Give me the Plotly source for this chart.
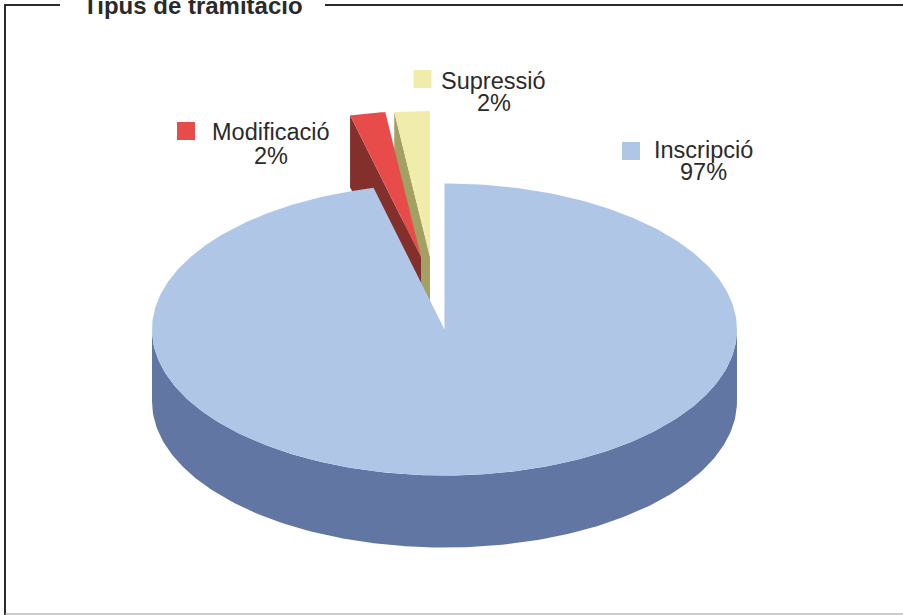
import numpy as np
import plotly.graph_objects as go

# Data
categories = ["Inscripció", "Modificació", "Supressió"]
shares = [96.1, 1.95, 1.95]
percent_labels = ["97%", "2%", "2%"]
title_text = "Tipus de tramitació"

# Colours
top_colors = ["#b0c6e6", "#e84c4a", "#f0ecac"]
wall_colors = ["#6276a4", "#83302d", "#a3a063"]
frame_color = "#2b2a2b"
text_color = "#2b2a2b"

# Projection of the pie
CX, CY, RX, RY, DEPTH = 444.5, 329.5, 292.5, 146.0, 72.0
EXPLODE = [(0.0, 0.0), (-23.5, -72.5), (-14.5, -72.5)]
LEGEND_XY = [(631, 151), (186, 131), (422.5, 79)]
LABEL_XY = [(703, 149.5, 172), (270.5, 131.5, 156), (493.5, 80.5, 103)]

cum = np.concatenate([[0.0], np.cumsum(shares)])
cum = cum / cum[-1] * 2 * np.pi
starts, ends = cum[:-1], cum[1:]


def project(theta, off=(0.0, 0.0), drop=0.0):
    theta = np.asarray(theta, dtype=float)
    return (CX + off[0] + RX * np.sin(theta), CY + off[1] + drop - RY * np.cos(theta))


def poly(fig, xs, ys, color):
    fig.add_trace(go.Scatter(x=list(xs), y=list(ys), mode="lines", fill="toself",
                             fillcolor=color, line=dict(width=0), hoverinfo="skip",
                             showlegend=False))


fig = go.Figure()

# Exploded slices, far one first: cut wall, then top
for i in (2, 1):
    off = EXPLODE[i]
    ax, ay = CX + off[0], CY + off[1]
    lx, ly = (float(v) for v in project(starts[i], off))
    poly(fig, [lx, ax, ax, lx], [ly, ay, ay + DEPTH, ly + DEPTH], wall_colors[i])
    tx, ty = project(np.linspace(starts[i], ends[i], 20), off)
    poly(fig, np.r_[ax, tx], np.r_[ay, ty], top_colors[i])

# Inscripció: front wall and top
arc = np.linspace(np.pi / 2, 3 * np.pi / 2, 200)
x1, y1 = project(arc)
x2, y2 = project(arc[::-1], drop=DEPTH)
poly(fig, np.r_[x1, x2], np.r_[y1, y2], wall_colors[0])
tx, ty = project(np.linspace(starts[0], ends[0], 400))
poly(fig, np.r_[CX, tx], np.r_[CY, ty], top_colors[0])

# Legend keys
for (kx, ky), col, name in zip(LEGEND_XY, top_colors, categories):
    fig.add_trace(go.Scatter(x=[kx], y=[ky], mode="markers", name=name,
                             marker=dict(symbol="square", size=18, color=col, line=dict(width=0)),
                             hoverinfo="skip", showlegend=False))

annotations = []
for (x, y1_, y2_), name, pct in zip(LABEL_XY, categories, percent_labels):
    for y, label in ((y1_, name), (y2_, pct)):
        annotations.append(dict(x=x, y=y, xref="x", yref="y", text=label, showarrow=False,
                                xanchor="center", yanchor="middle",
                                font=dict(family="Liberation Sans", size=23.5, color=text_color)))
annotations.append(dict(x=192.5, y=5, xref="x", yref="y", text="<b>%s</b>" % title_text,
                        showarrow=False, xanchor="center", yanchor="middle",
                        font=dict(family="Liberation Sans", size=24, color=text_color)))

shapes = [
    dict(type="line", x0=5, x1=5, y0=5, y1=615, line=dict(color=frame_color, width=2)),
    dict(type="line", x0=4, x1=60, y0=5, y1=5, line=dict(color=frame_color, width=2)),
    dict(type="line", x0=325, x1=903, y0=5, y1=5, line=dict(color=frame_color, width=2)),
    dict(type="line", x0=5, x1=903, y0=614, y1=614, line=dict(color="#9a9a9a", width=1)),
]

fig.update_layout(
    width=903, height=615, margin=dict(l=0, r=0, t=0, b=0),
    paper_bgcolor="white", plot_bgcolor="white", showlegend=False,
    xaxis=dict(range=[0, 903], visible=False, fixedrange=True),
    yaxis=dict(range=[615, 0], visible=False, fixedrange=True),
    annotations=annotations, shapes=shapes,
)

fig.write_html("out.html", config={"displayModeBar": False},
               post_script="document.body.style.margin='0';document.body.style.overflow='hidden';")
